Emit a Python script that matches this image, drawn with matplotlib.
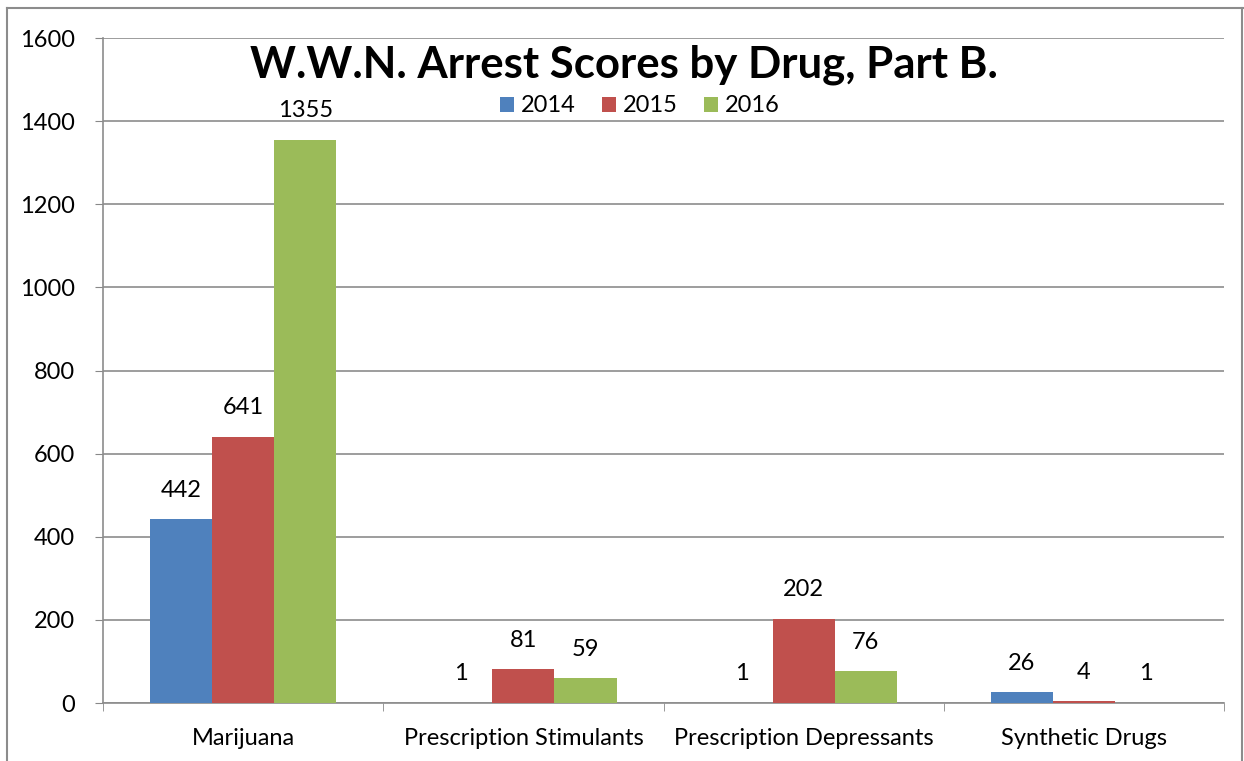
import matplotlib.pyplot as plt
import numpy as np
from matplotlib.lines import Line2D

# data
categories = ['Marijuana', 'Prescription Stimulants', 'Prescription Depressants', 'Synthetic Drugs']
years = ['2014', '2015', '2016']
vals_2014 = [442, 1, 1, 26]
vals_2015 = [641, 81, 202, 4]
vals_2016 = [1355, 59, 76, 1]
colors = ['#4F81BD', '#C0504D', '#9BBB59']

plt.rcParams['font.family'] = ['Lato', 'DejaVu Sans']

fig = plt.figure(figsize=(12.44, 7.61), dpi=100)
ax = fig.add_axes([103 / 1244, 1 - 703 / 761, (1224 - 103) / 1244, (703 - 38) / 761])

x = np.arange(len(categories))
w = 0.222
series = [vals_2014, vals_2015, vals_2016]
for i, (vals, c, yr) in enumerate(zip(series, colors, years)):
    xs = x + (i - 1) * w
    ax.bar(xs, vals, width=w, color=c, label=yr, zorder=3)
    for xx, v in zip(xs, vals):
        ax.annotate(str(v), (xx, v), xytext=(0, 21), textcoords='offset points',
                    ha='center', va='center', fontsize=17)

ax.set_xlim(-0.5, len(categories) - 0.5)
ax.set_ylim(0, 1600)
ax.set_yticks(range(0, 1601, 200))
ax.tick_params(axis='y', labelsize=17, length=6, color='#888888', pad=14)
ax.set_xticks(x)
ax.set_xticklabels(categories)
ax.tick_params(axis='x', labelsize=17, length=0, pad=18)
ax.set_xticks(np.arange(-0.5, len(categories), 1), minor=True)
ax.tick_params(axis='x', which='minor', length=6, color='#888888', direction='out')
ax.grid(axis='y', color='#8c8c8c', linewidth=1.2, zorder=0)
for s in ['top', 'right']:
    ax.spines[s].set_visible(False)
for s in ['left', 'bottom']:
    ax.spines[s].set_color('#8c8c8c')
    ax.spines[s].set_linewidth(1.2)

fig.text(624 / 1244, 1 - 65 / 761, 'W.W.N. Arrest Scores by Drug, Part B.', ha='center', va='center',
         fontsize=31.5, fontweight='bold')
ax.legend(loc='center', bbox_to_anchor=(640 / 1244, 1 - 106 / 761), bbox_transform=fig.transFigure,
          ncol=3, frameon=False, fontsize=17, handlelength=0.6, handleheight=0.6,
          handletextpad=0.3, columnspacing=1.1)

# outer chart border
bc = '#8c8c8c'
fig.add_artist(Line2D([7 / 1244, 7 / 1244], [0, 1 - 8 / 761], color=bc, lw=1.5))
fig.add_artist(Line2D([7 / 1244, 1243 / 1244], [1 - 8 / 761, 1 - 8 / 761], color=bc, lw=1.5))
fig.add_artist(Line2D([1242 / 1244, 1242 / 1244], [0, 1 - 8 / 761], color=bc, lw=1.5))

fig.savefig('out.png', dpi=100)
